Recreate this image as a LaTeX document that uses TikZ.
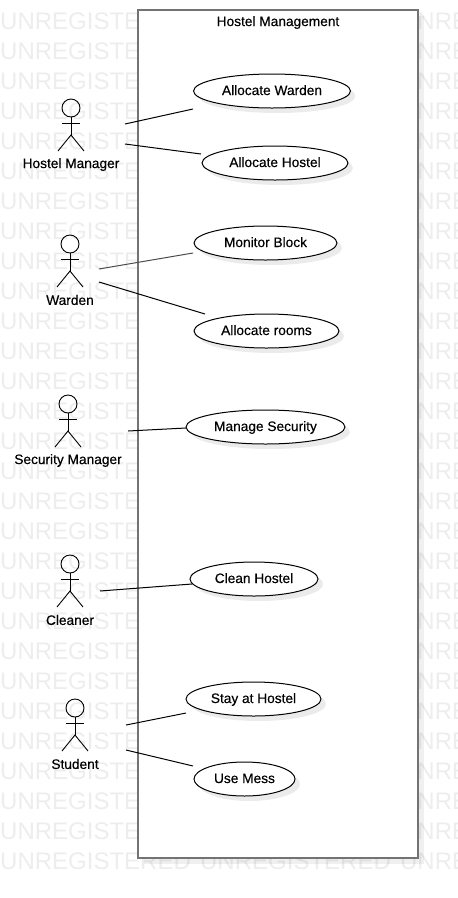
\documentclass[tikz,border=0pt]{standalone}
\usepackage{fontspec}
\setmainfont{Liberation Sans}
\newfontfamily\labelfont[FakeBold=0.3]{Liberation Sans}
\usetikzlibrary{shapes,shadows}
\definecolor{wmgray}{gray}{0.93}
\tikzstyle{usecase}=[ellipse,draw,fill=white,line width=1pt,inner sep=0pt,minimum height=34pt,text height=10pt,text depth=2pt,font=\labelfont\fontsize{13.7}{15}\selectfont,drop shadow={shadow xshift=5pt,shadow yshift=-5pt,opacity=0.08,fill=black}]
\tikzstyle{sysbox}=[rectangle,draw=black!55,line width=2pt,fill=white,inner sep=0pt,minimum width=280pt,minimum height=848pt,drop shadow={shadow xshift=6pt,shadow yshift=-6pt,opacity=0.06,fill=black}]
\tikzstyle{role}=[font=\labelfont\fontsize{13.7}{15}\selectfont,inner sep=0pt]
\tikzstyle{wmark}=[anchor=west,text=wmgray,font=\fontsize{24}{24}\selectfont,inner sep=0pt]
\tikzstyle{link}=[line width=1pt]
\tikzset{actor/.pic={
  \draw[line width=0.9pt] (0,0) circle (9);
  \draw[line width=0.9pt] (0,9) -- (0,27);
  \draw[line width=0.9pt] (-9,15) -- (9,15);
  \draw[line width=0.9pt] (-13,43) -- (0,27) -- (13,43);
}}
\begin{document}
\begin{tikzpicture}[x=1pt,y=-1pt]
\useasboundingbox (0,0) rectangle (458,898);
% watermark rows
\foreach \row in {21,51,...,861}
  \node[wmark] (wm\row) at (0,\row) {UNREGISTERED\hspace{9.3pt}UNREGISTERED\hspace{9.3pt}UNRE};
\node[sysbox] (system) at (278,434) {};
\node[role] (title) at (278,22.5) {Hostel Management};
% use cases
\node[usecase,minimum width=157pt] (warden) at (272,91) {Allocate Warden};
\node[usecase,minimum width=146pt] (hostel) at (275,163) {Allocate Hostel};
\node[usecase,minimum width=143pt] (block) at (265.5,243) {Monitor Block};
\node[usecase,minimum width=145pt] (rooms) at (266.5,331) {Allocate rooms};
\node[usecase,minimum width=159pt] (security) at (265.5,427) {Manage Security};
\node[usecase,minimum width=128pt] (clean) at (254,579) {Clean Hostel};
\node[usecase,minimum width=135pt] (stay) at (253.5,699) {Stay at Hostel};
\node[usecase,minimum width=101pt] (mess) at (244.5,779) {Use Mess};
% actors
\pic at (71,108) {actor};
\node[role] (hmanager) at (71,164.5) {Hostel Manager};
\pic at (70,244) {actor};
\node[role] (wardenact) at (70,300) {Warden};
\pic at (68,404) {actor};
\node[role] (smanager) at (68,460.5) {Security Manager};
\pic at (70,564) {actor};
\node[role] (cleaner) at (70,620) {Cleaner};
\pic at (75,708) {actor};
\node[role] (student) at (75,764) {Student};
% free ends
\coordinate (hm1) at (125,124);
\coordinate (hm2) at (125,144);
\coordinate (aw) at (193,109);
\coordinate (ah) at (201,154);
\coordinate (wa1) at (99,269);
\coordinate (wa2) at (99,282);
\coordinate (mb) at (193,253);
\coordinate (ar) at (205,314);
\coordinate (sm) at (128,431);
\coordinate (ms) at (186,428);
\coordinate (cl) at (100,591);
\coordinate (ch) at (192,584);
\coordinate (st1) at (126,725);
\coordinate (st2) at (126,750);
\coordinate (sh) at (186,713);
\coordinate (um) at (193,766);
\draw[link] (hm1) -- (aw);
\draw[link] (hm2) -- (ah);
\draw[link,black!70] (wa1) -- (mb);
\draw[link] (wa2) -- (ar);
\draw[link] (sm) -- (ms);
\draw[link] (cl) -- (ch);
\draw[link] (st1) -- (sh);
\draw[link] (st2) -- (um);
\end{tikzpicture}
\end{document}
